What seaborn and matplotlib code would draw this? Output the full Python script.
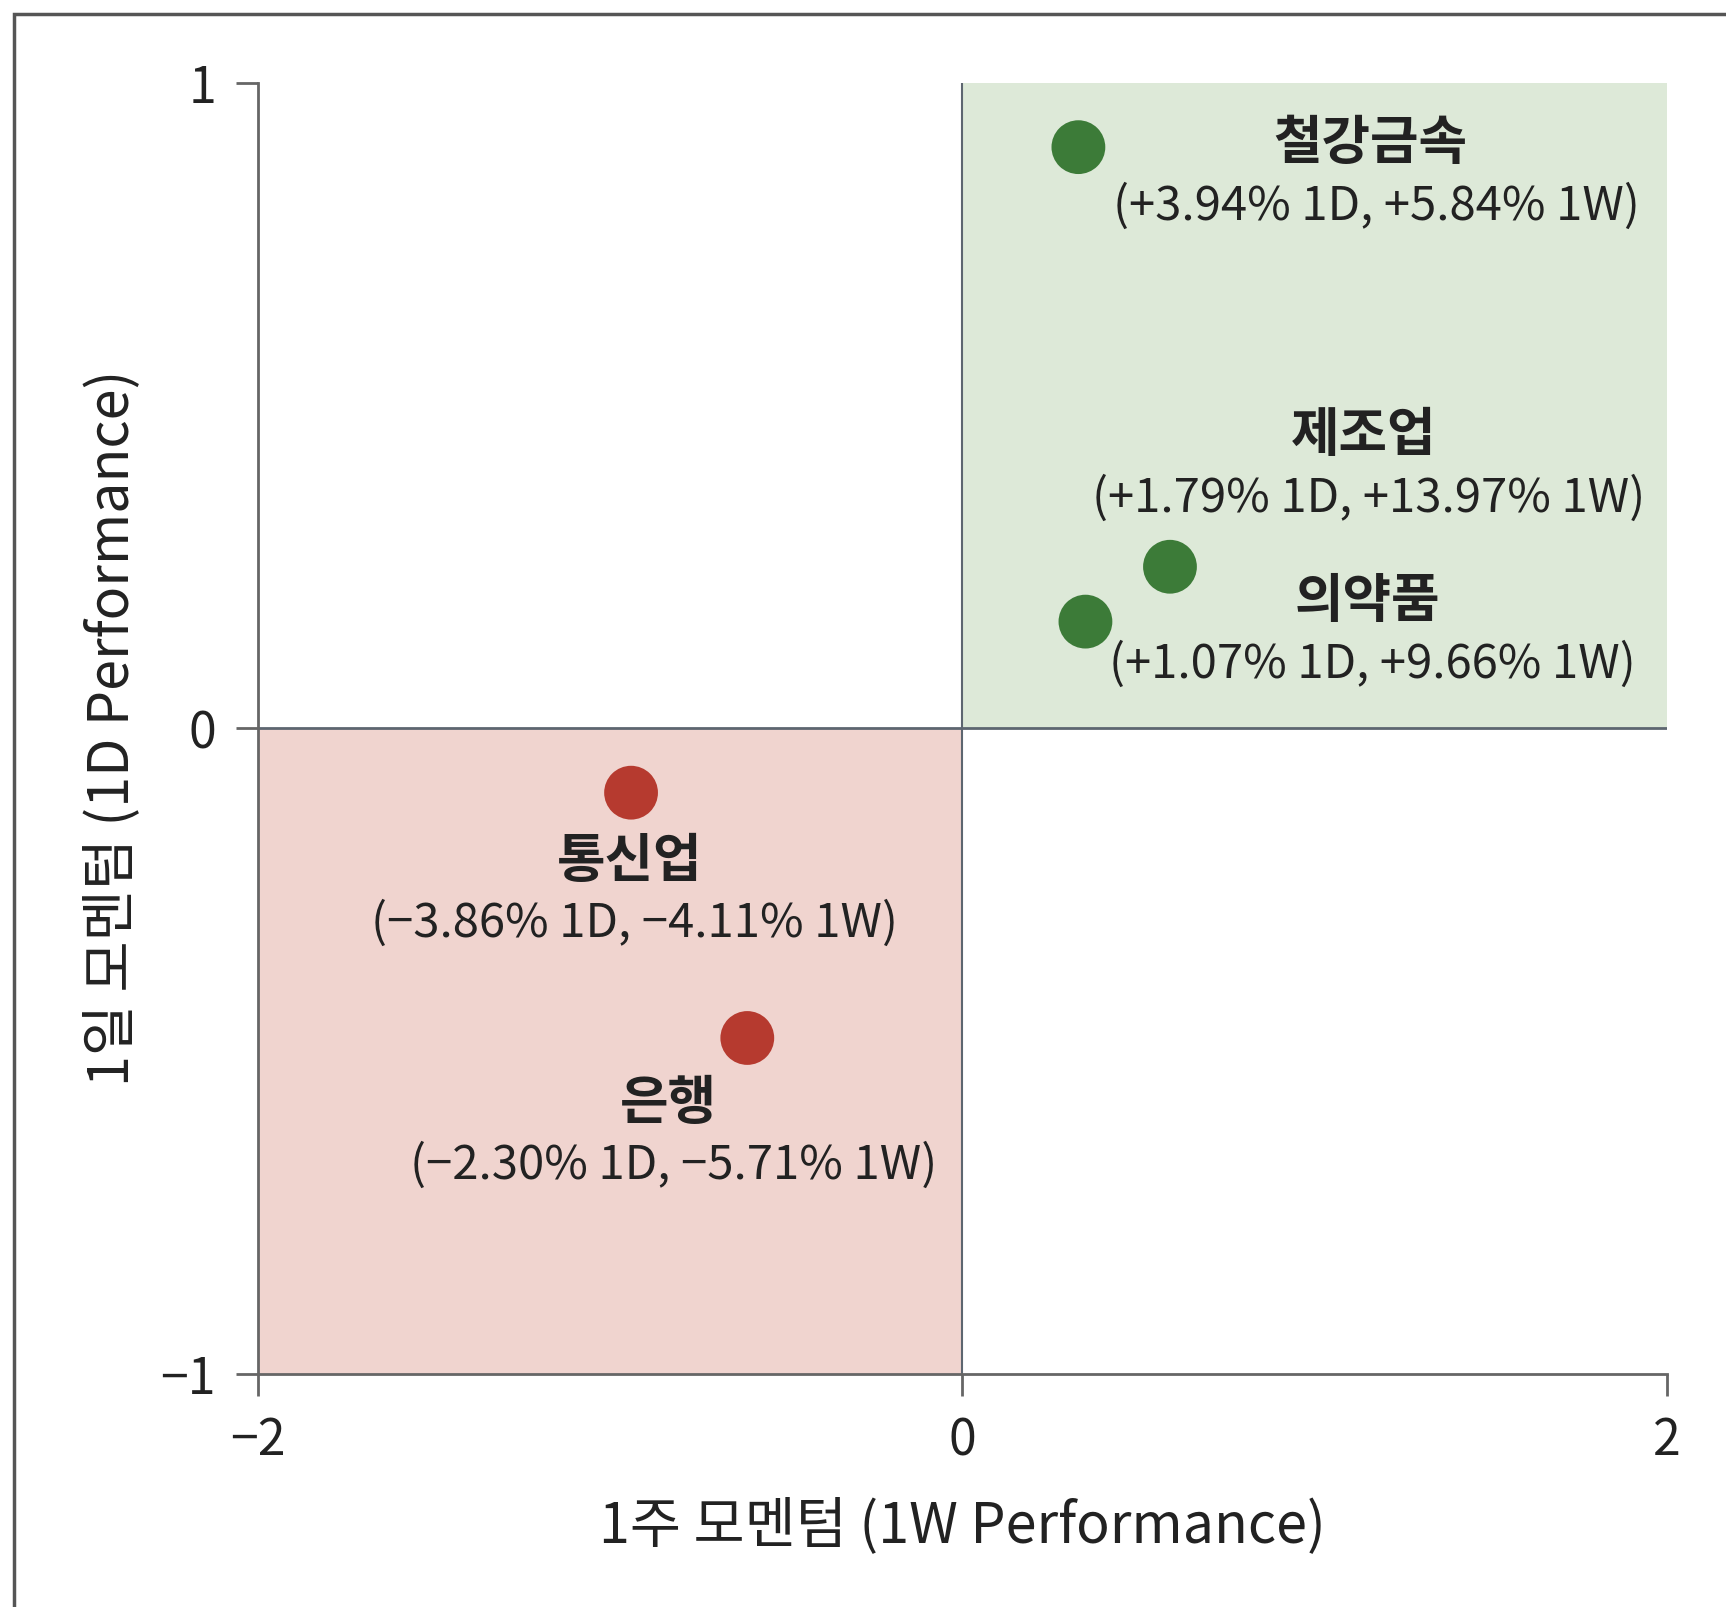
import numpy as np
import pandas as pd
import matplotlib
matplotlib.use('Agg')
import matplotlib.pyplot as plt
import seaborn as sns
from matplotlib.patches import Rectangle

# sector momentum data
sectors = ['철강금속', '제조업', '의약품', '통신업', '은행']
ret_1d = [3.94, 1.79, 1.07, -3.86, -2.30]
ret_1w = [5.84, 13.97, 9.66, -4.11, -5.71]
score_1w = [0.33, 0.59, 0.35, -0.94, -0.61]
score_1d = [0.90, 0.25, 0.165, -0.10, -0.48]
x_ticks = [-2, 0, 2]
y_ticks = [-1, 0, 1]

# where each sector name sits (data coords)
label_pos = [(1.16, 0.905), (1.14, 0.453), (1.15, 0.196), (-0.944, -0.206), (-0.834, -0.581)]

df = pd.DataFrame({'sector': sectors, 'x': score_1w, 'y': score_1d,
                   'd1': ret_1d, 'w1': ret_1w})
df['side'] = np.where(df['y'] >= 0, 'up', 'down')

sns.set_theme(style='white')
plt.rcParams['font.family'] = ['Noto Sans CJK KR', 'DejaVu Sans']
plt.rcParams['axes.unicode_minus'] = True

fig = plt.figure(figsize=(17.26, 16.07), dpi=100)
ax = fig.add_axes([0.1493, 0.1452, 0.9656 - 0.1493, 0.9486 - 0.1452])

# figure frame (only top/left visible in the reference)
fig.patches.append(Rectangle((14 / 1726, -0.2), 1.5, 1.2 - 14 / 1607, transform=fig.transFigure,
                             fill=False, edgecolor='#555555', linewidth=2.5))

# quadrant shading
ax.add_patch(Rectangle((0, 0), 2, 1, facecolor='#dde9d8', edgecolor='none', zorder=0))
ax.add_patch(Rectangle((-2, -1), 2, 1, facecolor='#f0d4cf', edgecolor='none', zorder=0))
ax.axhline(0, color='#5d6670', linewidth=2, zorder=1)
ax.axvline(0, color='#5d6670', linewidth=1.5, zorder=1)

sns.scatterplot(data=df, x='x', y='y', hue='side', palette={'up': '#3c7b38', 'down': '#b63a2f'},
                s=1500, edgecolor='none', legend=False, ax=ax, zorder=3)

for (lx, ly), name, d, w in zip(label_pos, df['sector'], df['d1'], df['w1']):
    ax.text(lx, ly, name, ha='center', va='center', fontsize=38, fontweight='bold',
            color='#222222')
    ax.text(lx + 0.015, ly - 0.097, f'({d:+.2f}% 1D, {w:+.2f}% 1W)'.replace('-', '\u2212'),
            ha='center', va='center', fontsize=34, color='#222222')

ax.set_xlim(-2, 2)
ax.set_ylim(-1, 1)
ax.set_xticks(x_ticks)
ax.set_yticks(y_ticks)
ax.tick_params(axis='both', labelsize=36, length=16, width=2, color='#666666', pad=14,
               labelcolor='#222222', left=True, bottom=True)
for side in ['top', 'right']:
    ax.spines[side].set_visible(False)
for side in ['left', 'bottom']:
    ax.spines[side].set_color('#666666')
    ax.spines[side].set_linewidth(2)

ax.set_xlabel('1주 모멘텀 (1W Performance)', fontsize=40, labelpad=22, color='#222222')
ax.set_ylabel('1일 모멘텀 (1D Performance)', fontsize=40, labelpad=14, color='#222222')

fig.savefig('out.png', dpi=100, facecolor='white')
